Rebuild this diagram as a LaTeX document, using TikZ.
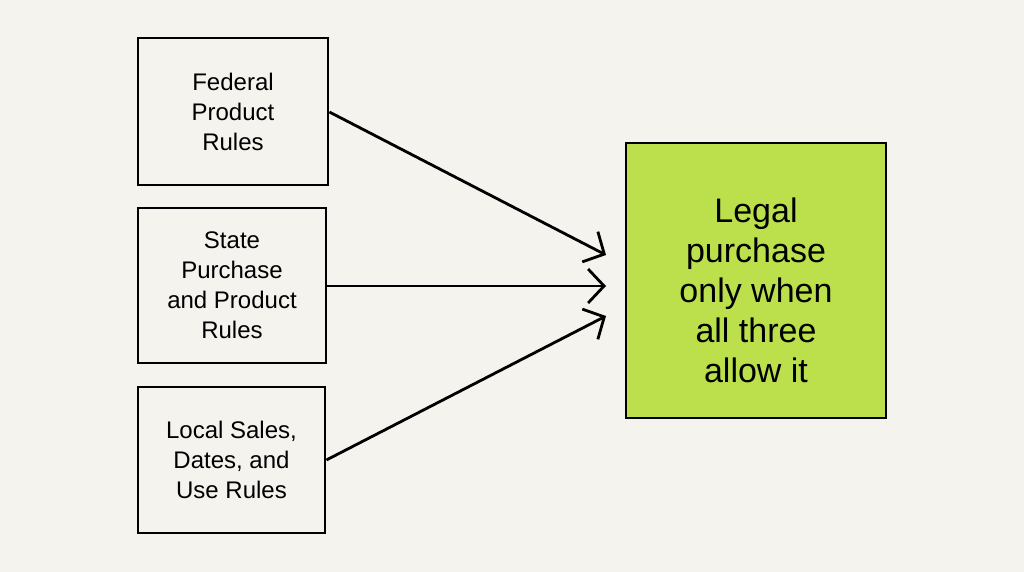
\documentclass[tikz,border=0pt]{standalone}
\usepackage{fontspec}
\setmainfont{Liberation Sans}
\usetikzlibrary{arrows.meta}
\definecolor{bg}{HTML}{F5F3EE}
\definecolor{lime}{HTML}{BCE04C}
\begin{document}
\begin{tikzpicture}[x=1pt,y=-1pt,
  box/.style={draw=black,line width=2.8pt,align=center,font=\fontsize{24}{30}\selectfont,inner sep=0},
  arr/.style={line width=2.8pt,-{Straight Barb[length=16pt,width=34pt,line width=2.8pt]}}]
\fill[bg] (0,0) rectangle (1024,572);
\useasboundingbox (0,0) rectangle (1024,572);
\node[box,minimum width=190pt,minimum height=147pt] (f) at (233,111.5) {Federal\\Product\\Rules};
\node[box,minimum width=188pt,minimum height=155pt] (s) at (232,285.5) {State\\Purchase\\and Product\\Rules};
\node[box,minimum width=187pt,minimum height=146pt] (l) at (231.5,460) {Local Sales,\\Dates, and\\Use Rules};
\node[box,fill=lime,minimum width=260pt,minimum height=275pt] (g) at (756,280.5) {};
\node[align=center,inner sep=0,font=\fontsize{34}{40}\selectfont] (gt) at (756,290) {Legal\\purchase\\only when\\all three\\allow it};
\coordinate (t1) at (606,255);
\coordinate (t2) at (606,286);
\coordinate (t3) at (606,316);
\draw[arr] (f.east |- 0,112) -- (t1);
\draw[arr] (s.east |- 0,286) -- (t2);
\draw[arr] (l.east |- 0,460) -- (t3);
\end{tikzpicture}
\end{document}
